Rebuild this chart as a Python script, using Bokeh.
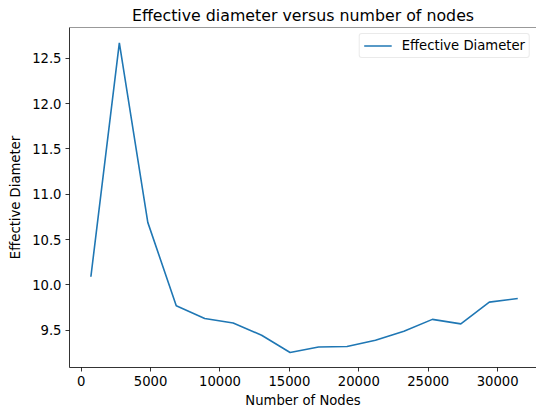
from bokeh.plotting import figure
from bokeh.models import FixedTicker, PrintfTickFormatter, Range1d, Span, Legend, LegendItem
from bokeh.embed import file_html
from bokeh.resources import INLINE

nodes = [700, 2750, 4800, 6850, 8900, 10950, 13000, 15050, 17100, 19150,
         21200, 23250, 25300, 27350, 29400, 31450]
eff_diam = [10.09, 12.67, 10.69, 9.77, 9.63, 9.58, 9.445, 9.255, 9.315, 9.32,
            9.39, 9.49, 9.62, 9.57, 9.81, 9.85]
x_ticks = [0, 5000, 10000, 15000, 20000, 25000, 30000]
y_ticks = [9.5, 10.0, 10.5, 11.0, 11.5, 12.0, 12.5]

FONT = "DejaVu Sans"
TXT = "#000000"
FS = "13.2px"

p = figure(width=536, height=410, output_backend="svg", toolbar_location=None,
           x_range=Range1d(-840, 32800), y_range=Range1d(9.089, 12.84),
           min_border_left=69, min_border_right=0, min_border_top=27, min_border_bottom=43,
           title="Effective diameter versus number of nodes")
p.outline_line_color = None
p.background_fill_color = "white"
p.border_fill_color = "white"
p.xgrid.visible = False
p.ygrid.visible = False

r = p.line(nodes, eff_diam, line_color="#1f77b4", line_width=1.6)

p.title.text_font = FONT
p.title.text_font_size = "15.8px"
p.title.text_font_style = "normal"
p.title.text_color = TXT
p.title.align = "center"
p.title.standoff = 5
p.title.offset = 0

for ax, ticks in ((p.xaxis[0], x_ticks), (p.yaxis[0], y_ticks)):
    ax.ticker = FixedTicker(ticks=ticks)
    ax.minor_tick_line_color = None
    ax.major_tick_in = 0
    ax.major_tick_out = 4
    ax.major_tick_line_color = "black"
    ax.major_tick_line_width = 0.8
    ax.axis_line_color = "black"
    ax.axis_line_width = 0.8
    ax.major_label_text_font = FONT
    ax.major_label_text_font_size = FS
    ax.major_label_text_color = TXT
    ax.axis_label_text_font = FONT
    ax.axis_label_text_font_size = FS
    ax.axis_label_text_font_style = "normal"
    ax.axis_label_text_color = TXT
    ax.major_label_standoff = 4

p.xaxis[0].axis_label_standoff = 4
p.yaxis[0].axis_label_standoff = 6
p.xaxis[0].formatter = PrintfTickFormatter(format="%d")
p.yaxis[0].formatter = PrintfTickFormatter(format="%.1f")
p.xaxis[0].axis_label = "Number of Nodes"
p.yaxis[0].axis_label = "Effective Diameter"

p.add_layout(Span(location=12.84, dimension="width", line_color="black", line_width=0.8))

legend = Legend(items=[LegendItem(label="Effective Diameter", renderers=[r])],
                location="top_right")
legend.margin = 6
legend.padding = 4
legend.spacing = 0
legend.glyph_width = 28
legend.glyph_height = 15
legend.label_height = 15
legend.label_width = 122
legend.label_standoff = 10
legend.label_text_font = FONT
legend.label_text_font_size = FS
legend.label_text_color = TXT
legend.border_line_color = "#d5d5d5"
legend.border_line_width = 1
legend.border_radius = 3
legend.background_fill_alpha = 0.8
p.add_layout(legend)

open("out.html", "w").write(file_html(p, INLINE))
